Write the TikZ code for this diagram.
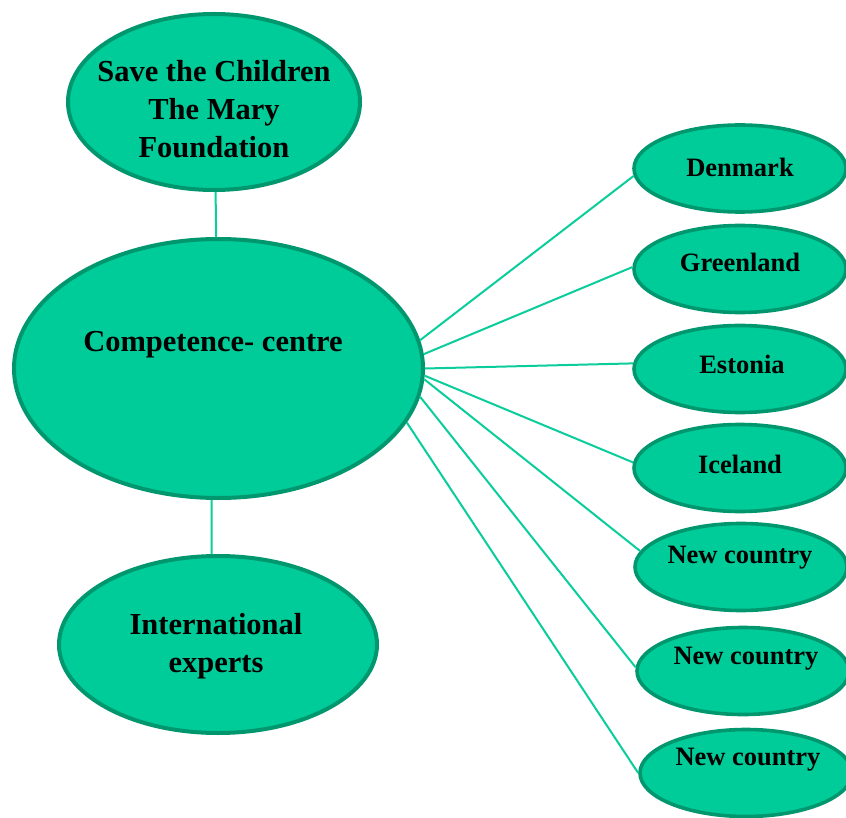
\documentclass[tikz,border=0pt]{standalone}
\usepackage{fontspec}
\setmainfont{Liberation Serif}
\usetikzlibrary{shapes.geometric}
\definecolor{gfill}{RGB}{0,204,153}
\definecolor{gedge}{RGB}{0,150,110}
\definecolor{gline}{RGB}{10,205,155}
\tikzset{
  bub/.style={ellipse, draw=gedge, fill=gfill, line width=4pt, inner sep=0pt},
  small/.style={bub, line width=3.6pt, minimum width=212pt, minimum height=87pt},
  big/.style={font=\bfseries\fontsize{30.5}{38}\selectfont, align=center, inner sep=0pt, anchor=base},
  lbl/.style={font=\bfseries\fontsize{26.5}{30}\selectfont, inner sep=0pt, anchor=base},
  conn/.style={draw=gline, line width=2pt}
}
\begin{document}
\begin{tikzpicture}[x=1pt,y=-1pt]
\useasboundingbox (0,0) rectangle (846,818);
% ellipses
\node[bub, minimum width=292pt, minimum height=176pt] (tp) at (214,102) {};
\node[bub, minimum width=409pt, minimum height=259pt] (cc) at (218.5,368.5) {};
\node[bub, minimum width=318pt, minimum height=177pt] (ie) at (218,644.5) {};
\node[small] (dk) at (740,168.5) {};
\node[small] (gl) at (740,269) {};
\node[small] (ee) at (740,369) {};
\node[small] (is) at (740,468) {};
\node[small] (n1) at (741,567) {};
\node[small] (n2) at (743,671) {};
\node[small] (n3) at (746,773) {};
% connectors
\draw[conn] (tp.271.3) -- (cc.91.1);
\draw[conn] (cc.267.2) -- (ie.94.1);
\draw[conn] (cc.8.9) -- (dk.184.5);
\draw[conn] (cc.4.4) -- (gl.179);
\draw[conn] (cc.0.7) -- (ee.177.9);
\draw[conn] (cc.-2.4) -- (is.177);
\draw[conn] (cc.-3.5) -- (n1.171.6);
\draw[conn] (cc.-8.6) -- (n2.178);
\draw[conn] (cc.-16.9) -- (n3.180);
% texts
\node[big] (tpt) at (214,158) {Save the Children\\The Mary\\Foundation};
\node[big] (cct) at (213,352) {Competence- centre};
\node[big] (iet) at (216,672) {International\\experts};
\node[lbl] (dkt) at (740,177) {Denmark};
\node[lbl] (glt) at (740,272) {Greenland};
\node[lbl] (eet) at (742,373) {Estonia};
\node[lbl] (ist) at (740,473) {Iceland};
\node[lbl] (n1t) at (740,563) {New country};
\node[lbl] (n2t) at (746,664) {New country};
\node[lbl] (n3t) at (748,765) {New country};
\end{tikzpicture}
\end{document}
